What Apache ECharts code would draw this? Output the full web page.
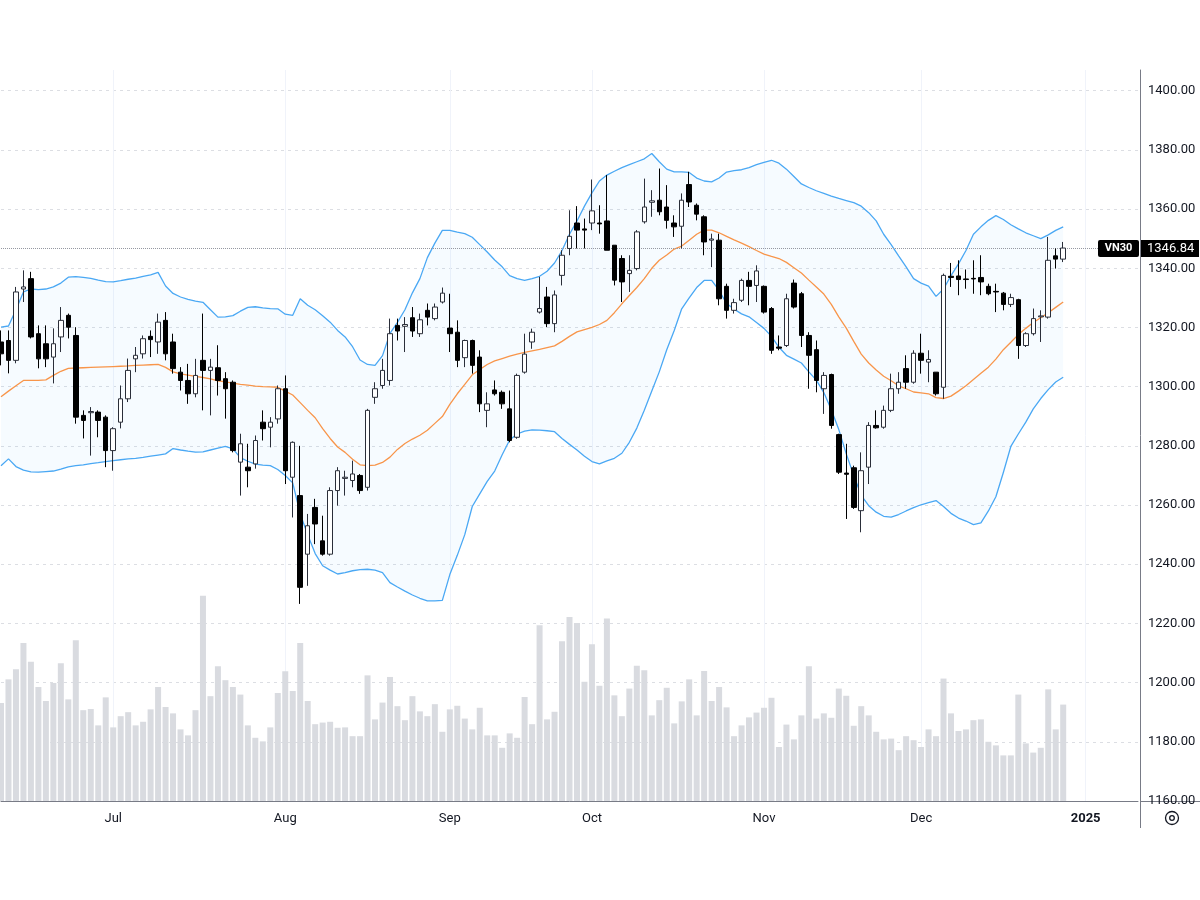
<!DOCTYPE html>
<html>
<head>
<meta charset="utf-8">
<title>VN30</title>
<script src="https://cdn.jsdelivr.net/npm/echarts@6/dist/echarts.min.js"></script>
<style>
  html, body { margin: 0; padding: 0; background: #fff; }
  #chart { width: 1200px; height: 900px; }
</style>
</head>
<body>
<div id="chart"></div>
<script>
// trading calendar (weekdays, minus exchange holidays) - 143 sessions + future slots
const firstDay = '2024-06-10'
const holidays = ['2024-09-02', '2024-09-03', '2025-01-01']
const slotCount = 153
const monthNames = ['Jan', 'Feb', 'Mar', 'Apr', 'May', 'Jun', 'Jul', 'Aug', 'Sep', 'Oct', 'Nov', 'Dec']

const openPrices = [
  1315.1, 1315.6, 1308.9, 1333.0, 1336.5, 1317.9, 1314.5, 1310.0, 1316.8, 1324.1,
  1317.3, 1290.3, 1291.2, 1291.4, 1289.7, 1278.4, 1288.0, 1295.9, 1309.4, 1311.1,
  1317.0, 1315.1, 1322.4, 1315.1, 1304.9, 1302.1, 1297.6, 1308.9, 1305.5, 1306.4,
  1302.7, 1301.5, 1274.5, 1272.8, 1273.9, 1288.0, 1286.3, 1289.1, 1299.3, 1269.4,
  1263.2, 1243.4, 1259.2, 1247.9, 1243.4, 1264.9, 1269.0, 1268.3, 1270.0, 1266.0,
  1296.4, 1300.4, 1302.1, 1320.7, 1320.4, 1323.3, 1317.9, 1325.8, 1323.0, 1328.6,
  1319.8, 1318.4, 1309.8, 1315.6, 1310.0, 1292.0, 1298.9, 1298.1, 1292.5, 1282.9,
  1304.9, 1315.1, 1325.2, 1330.3, 1321.3, 1337.6, 1346.7, 1355.3, 1353.3, 1355.3,
  1355.3, 1356.0, 1347.8, 1343.3, 1338.2, 1339.9, 1355.7, 1362.3, 1363.0, 1360.7,
  1355.3, 1354.2, 1368.3, 1361.3, 1357.4, 1349.5, 1349.5, 1333.9, 1325.8, 1329.2,
  1335.9, 1334.2, 1333.9, 1326.4, 1313.4, 1313.9, 1335.0, 1331.4, 1317.3, 1312.5,
  1299.3, 1304.1, 1283.8, 1270.8, 1272.6, 1258.1, 1272.8, 1286.9, 1286.3, 1292.0,
  1299.3, 1306.1, 1301.5, 1311.3, 1308.3, 1304.9, 1299.8, 1337.3, 1337.4, 1336.4,
  1336.6, 1336.9, 1333.9, 1332.2, 1331.6, 1327.8, 1329.4, 1313.9, 1317.9, 1323.6,
  1323.5, 1344.2, 1343.1
]
const closePrices = [
  1311.1, 1308.9, 1332.0, 1333.7, 1316.8, 1309.4, 1309.4, 1314.5, 1322.4, 1320.1,
  1289.7, 1288.6, 1291.6, 1288.6, 1278.4, 1285.8, 1295.9, 1305.5, 1310.6, 1316.2,
  1315.9, 1321.8, 1311.1, 1306.1, 1302.1, 1297.6, 1303.8, 1305.5, 1306.6, 1302.1,
  1299.3, 1278.4, 1280.7, 1271.6, 1281.8, 1285.8, 1288.0, 1299.3, 1271.6, 1281.2,
  1232.2, 1253.0, 1253.6, 1243.4, 1264.9, 1271.6, 1269.4, 1270.5, 1264.9, 1292.0,
  1299.3, 1305.5, 1317.9, 1318.8, 1321.0, 1318.8, 1322.6, 1323.5, 1326.9, 1331.6,
  1317.9, 1308.9, 1315.6, 1307.2, 1294.2, 1294.2, 1297.6, 1294.2, 1281.8, 1303.8,
  1311.0, 1318.4, 1326.4, 1321.3, 1331.0, 1344.4, 1350.8, 1352.9, 1352.9, 1359.4,
  1355.0, 1346.1, 1336.0, 1335.4, 1339.3, 1352.3, 1360.7, 1362.8, 1359.1, 1356.2,
  1354.0, 1363.0, 1362.4, 1358.3, 1348.9, 1349.9, 1329.7, 1325.8, 1328.4, 1335.9,
  1333.9, 1339.1, 1325.2, 1312.3, 1313.0, 1329.7, 1326.9, 1317.3, 1310.6, 1302.1,
  1303.8, 1286.9, 1271.1, 1270.4, 1259.2, 1271.6, 1286.9, 1286.1, 1292.0, 1299.3,
  1301.5, 1301.5, 1311.3, 1308.9, 1309.2, 1297.6, 1337.6, 1336.9, 1336.2, 1336.2,
  1336.4, 1335.4, 1331.4, 1332.0, 1327.8, 1330.1, 1313.9, 1317.9, 1323.0, 1323.9,
  1342.7, 1343.1, 1346.84
]
const lowPrices = [
  1307.2, 1304.5, 1307.9, 1328.6, 1316.3, 1306.2, 1306.6, 1301.1, 1311.7, 1316.3,
  1287.5, 1282.5, 1276.7, 1282.9, 1272.8, 1271.6, 1285.9, 1294.8, 1304.9, 1309.5,
  1310.0, 1311.1, 1308.9, 1304.4, 1298.7, 1294.2, 1296.4, 1292.0, 1290.3, 1297.0,
  1289.2, 1277.8, 1263.2, 1266.0, 1272.3, 1281.8, 1279.5, 1287.5, 1267.1, 1255.8,
  1226.6, 1232.7, 1246.8, 1242.9, 1242.9, 1259.8, 1263.2, 1266.0, 1263.8, 1264.9,
  1294.2, 1299.3, 1300.4, 1315.6, 1311.7, 1316.8, 1316.8, 1320.7, 1322.4, 1328.1,
  1311.7, 1306.6, 1306.6, 1304.4, 1291.4, 1286.3, 1297.0, 1292.5, 1281.2, 1282.4,
  1304.4, 1312.8, 1324.7, 1320.1, 1318.4, 1334.2, 1344.4, 1346.7, 1346.7, 1352.9,
  1351.7, 1346.1, 1334.2, 1328.6, 1332.0, 1339.3, 1355.1, 1357.4, 1357.9, 1353.4,
  1350.6, 1346.7, 1360.7, 1356.2, 1344.4, 1340.4, 1327.5, 1323.0, 1324.7, 1328.6,
  1327.5, 1328.6, 1324.7, 1311.1, 1312.3, 1313.4, 1326.4, 1313.4, 1299.3, 1298.1,
  1290.8, 1285.8, 1270.5, 1255.3, 1258.7, 1250.8, 1267.1, 1285.8, 1285.8, 1291.4,
  1297.6, 1299.3, 1301.0, 1304.4, 1301.5, 1297.0, 1295.9, 1333.7, 1330.9, 1333.1,
  1331.4, 1330.9, 1330.9, 1325.2, 1325.8, 1326.9, 1309.4, 1313.4, 1317.3, 1315.1,
  1323.0, 1339.9, 1342.1
]
const highPrices = [
  1319.0, 1319.0, 1333.7, 1339.3, 1338.8, 1320.7, 1320.7, 1319.7, 1326.9, 1324.7,
  1320.1, 1292.0, 1293.1, 1292.0, 1290.3, 1286.3, 1300.4, 1309.5, 1313.4, 1317.3,
  1319.0, 1324.7, 1325.2, 1317.9, 1306.6, 1307.7, 1309.4, 1324.7, 1309.4, 1314.0,
  1304.9, 1302.1, 1284.1, 1280.7, 1283.5, 1292.0, 1289.7, 1300.4, 1303.8, 1281.5,
  1280.0, 1257.0, 1262.1, 1256.4, 1266.0, 1272.8, 1271.6, 1275.0, 1270.5, 1292.5,
  1301.5, 1309.4, 1323.0, 1323.0, 1323.5, 1326.9, 1324.7, 1328.1, 1328.1, 1333.5,
  1331.4, 1322.4, 1315.9, 1315.9, 1312.3, 1298.1, 1302.1, 1298.7, 1298.7, 1304.4,
  1317.9, 1319.6, 1337.1, 1333.7, 1332.5, 1346.1, 1359.6, 1361.0, 1356.8, 1370.0,
  1361.3, 1371.5, 1347.8, 1344.4, 1344.4, 1352.9, 1370.3, 1366.4, 1373.7, 1368.1,
  1357.9, 1365.3, 1372.6, 1361.9, 1357.9, 1351.7, 1351.7, 1334.8, 1329.7, 1336.5,
  1338.8, 1341.0, 1334.2, 1326.9, 1317.3, 1331.4, 1336.2, 1332.0, 1318.4, 1315.6,
  1304.9, 1304.4, 1284.1, 1280.7, 1273.3, 1277.8, 1288.0, 1292.0, 1293.6, 1304.4,
  1304.9, 1310.6, 1312.3, 1317.9, 1312.3, 1304.9, 1338.2, 1341.8, 1342.7, 1339.6,
  1342.7, 1344.4, 1334.8, 1334.8, 1332.0, 1331.4, 1329.7, 1318.4, 1326.4, 1325.8,
  1350.6, 1346.7, 1348.9
]
// volume, millions of shares
const volumes = [
  245, 304, 329, 395, 348, 285, 250, 295, 344, 254,
  402, 227, 230, 189, 259, 184, 212, 222, 189, 198,
  229, 285, 235, 219, 179, 164, 227, 513, 262, 337,
  302, 285, 266, 189, 158, 149, 184, 270, 324, 275,
  395, 250, 192, 196, 198, 183, 184, 162, 162, 314,
  204, 246, 310, 237, 202, 262, 224, 212, 242, 173,
  229, 238, 206, 179, 233, 164, 164, 133, 169, 158,
  260, 192, 439, 204, 223, 399, 460, 445, 298, 392,
  288, 456, 264, 212, 281, 338, 327, 214, 252, 283,
  194, 249, 304, 214, 325, 250, 285, 234, 162, 189,
  209, 221, 233, 258, 135, 191, 154, 214, 337, 206,
  219, 208, 281, 263, 188, 237, 214, 173, 154, 156,
  127, 162, 152, 135, 179, 162, 306, 219, 175, 179,
  202, 204, 148, 139, 114, 114, 266, 144, 121, 133,
  279, 179, 241
]
// Bollinger bands (20, 2) as plotted
const bbUpper = [
  1320.1, 1320.5, 1326.0, 1332.0, 1333.0, 1332.8, 1333.0, 1333.7, 1335.0, 1337.0,
  1337.2, 1336.9, 1336.6, 1336.0, 1335.5, 1335.4, 1335.8, 1336.3, 1336.7, 1337.3,
  1337.8, 1338.6, 1334.0, 1331.5, 1330.3, 1329.5, 1328.9, 1328.5, 1326.0, 1323.5,
  1323.6, 1324.0, 1325.5, 1326.8, 1327.0, 1326.6, 1326.4, 1326.3, 1324.5, 1324.1,
  1329.7, 1327.5, 1326.0, 1324.0, 1321.8, 1319.0, 1316.8, 1313.5, 1309.0, 1307.5,
  1307.2, 1310.5, 1318.0, 1321.7, 1326.0, 1331.7, 1336.5, 1343.6, 1348.5, 1352.8,
  1352.8, 1352.2, 1351.7, 1350.5, 1348.0, 1345.5, 1342.8, 1340.5, 1337.5, 1336.5,
  1335.9, 1336.5, 1337.3, 1339.0, 1341.8, 1346.0, 1351.5, 1356.0, 1361.0, 1365.5,
  1369.5, 1371.5, 1372.8, 1374.0, 1375.0, 1376.0, 1377.0, 1378.8, 1376.0, 1373.5,
  1372.6, 1372.6, 1372.4, 1370.5, 1369.5, 1369.2, 1370.5, 1372.5, 1373.0, 1373.3,
  1374.0, 1375.0, 1375.8, 1376.5, 1375.5, 1373.5, 1371.0, 1368.5, 1367.3, 1366.2,
  1365.3, 1364.4, 1363.6, 1362.9, 1362.2, 1361.0, 1358.8, 1356.0, 1351.5, 1348.0,
  1344.2, 1340.5, 1336.5, 1335.0, 1334.0, 1330.5, 1333.0, 1337.5, 1341.5, 1346.0,
  1351.5, 1354.0, 1356.2, 1357.8, 1356.5, 1354.7, 1353.3, 1352.0, 1351.0, 1350.0,
  1351.3, 1352.8, 1354.0
]
const bbBasis = [
  1296.6, 1298.5, 1300.3, 1302.1, 1302.1, 1302.1, 1302.3, 1303.8, 1305.2, 1306.2,
  1306.3, 1306.4, 1306.5, 1306.6, 1306.7, 1306.8, 1306.9, 1307.0, 1307.2, 1307.3,
  1307.4, 1307.5, 1306.5, 1305.0, 1304.3, 1303.9, 1303.5, 1303.1, 1302.6, 1302.0,
  1301.6, 1301.2, 1300.8, 1300.5, 1300.2, 1300.0, 1299.9, 1299.8, 1298.5, 1297.2,
  1294.6, 1292.0, 1289.5, 1285.8, 1282.5, 1279.6, 1277.8, 1275.5, 1273.6, 1273.3,
  1273.5, 1274.4, 1276.2, 1278.8, 1280.8, 1282.3, 1283.6, 1285.3, 1287.6, 1289.9,
  1294.0, 1297.6, 1300.8, 1304.0, 1305.8, 1307.5, 1308.7, 1309.5, 1310.3, 1311.0,
  1311.6, 1312.1, 1312.6, 1313.2, 1313.8, 1315.3, 1317.0, 1318.5, 1319.3, 1320.0,
  1321.0, 1322.4, 1325.0, 1328.0, 1330.8, 1333.5, 1336.5, 1340.0, 1342.7, 1344.5,
  1346.5, 1347.5, 1349.5, 1351.5, 1352.9, 1352.9, 1352.0, 1350.8, 1349.6, 1348.5,
  1347.3, 1346.0, 1344.8, 1344.0, 1343.3, 1342.0, 1340.2, 1338.4, 1336.0, 1333.7,
  1331.3, 1327.8, 1323.6, 1319.8, 1315.3, 1311.0, 1308.0, 1305.6, 1303.5, 1302.0,
  1300.3, 1299.3, 1298.2, 1297.9, 1297.6, 1296.3, 1296.0, 1296.8, 1298.5, 1300.3,
  1302.4, 1304.5, 1306.6, 1309.3, 1312.5, 1315.0, 1317.6, 1319.7, 1321.7, 1323.3,
  1325.0, 1326.8, 1328.6
]
const bbLower = [
  1273.3, 1275.6, 1273.0, 1271.8, 1271.2, 1271.1, 1271.3, 1271.5, 1272.1, 1272.9,
  1273.3, 1273.6, 1274.0, 1274.3, 1274.7, 1275.0, 1275.3, 1275.6, 1275.8, 1276.1,
  1276.5, 1276.9, 1277.3, 1279.1, 1278.6, 1278.2, 1277.9, 1278.0, 1278.6, 1279.2,
  1279.8, 1279.0, 1276.0, 1274.8, 1273.8, 1273.5, 1273.3, 1272.0, 1270.0, 1267.5,
  1257.0, 1250.0, 1243.6, 1239.5, 1238.0, 1236.7, 1237.2, 1237.8, 1238.2, 1238.3,
  1238.0, 1237.2, 1233.8, 1232.3, 1230.9, 1229.6, 1228.5, 1227.6, 1227.6, 1227.8,
  1236.5, 1243.0, 1250.0, 1259.5, 1263.8, 1268.0, 1271.5, 1277.0, 1282.0, 1284.0,
  1285.0, 1285.4, 1285.3, 1285.1, 1284.8, 1282.5, 1280.5, 1278.6, 1276.5, 1274.7,
  1273.9, 1274.9, 1275.8, 1277.5, 1281.2, 1286.0, 1292.0, 1298.5, 1305.0, 1312.5,
  1319.0, 1326.3, 1330.0, 1333.5, 1335.9, 1335.9, 1332.5, 1328.1, 1326.2, 1324.6,
  1323.6, 1321.7, 1319.7, 1317.0, 1313.3, 1310.6, 1309.3, 1308.0, 1305.0, 1302.2,
  1298.0, 1292.2, 1285.5, 1277.3, 1270.0, 1263.3, 1259.8, 1257.6, 1256.2, 1255.9,
  1256.8, 1258.0, 1259.1, 1260.1, 1260.8, 1261.5, 1259.5, 1257.2, 1255.6, 1254.6,
  1253.4, 1254.0, 1258.0, 1262.8, 1271.0, 1279.8, 1284.0, 1288.0, 1292.5, 1296.0,
  1299.0, 1301.6, 1303.2
]
const priceTicks = { min: 1160, max: 1407, step: 20 }
const symbolName = 'VN30'

function tradingDays(start, count) {
  const out = []
  const d = new Date(start + 'T00:00:00Z')
  while (out.length < count) {
    const s = d.toISOString().slice(0, 10)
    const wd = d.getUTCDay()
    if (wd !== 0 && wd !== 6 && holidays.indexOf(s) < 0) out.push(s)
    d.setUTCDate(d.getUTCDate() + 1)
  }
  return out
}

const dates = tradingDays(firstDay, slotCount)
const monthStart = {}
dates.forEach((s, i) => {
  if (i > 0 && s.slice(5, 7) !== dates[i - 1].slice(5, 7)) {
    const m = +s.slice(5, 7)
    monthStart[i] = m === 1 ? s.slice(0, 4) : monthNames[m - 1]
  }
})

const candles = openPrices.map((o, i) => [o, closePrices[i], lowPrices[i], highPrices[i]])
const bandWidth = bbUpper.map((u, i) => +(u - bbLower[i]).toFixed(2))
const lastClose = closePrices[closePrices.length - 1]

const chart = echarts.init(document.getElementById('chart'))
chart.setOption({
  animation: false,
  backgroundColor: '#ffffff',
  textStyle: { fontFamily: 'Roboto, "Liberation Sans", sans-serif' },
  grid: { left: 1, right: 62, top: 70, bottom: 99, containLabel: false },
  xAxis: [
    {
      type: 'category',
      data: dates,
      boundaryGap: false,
      axisLine: { lineStyle: { color: '#787b86', width: 1 } },
      axisTick: { show: false },
      axisLabel: {
        interval: (idx) => monthStart[idx] !== undefined,
        formatter: (val, idx) => {
          const t = monthStart[idx] || ''
          return /^\d{4}$/.test(t) ? '{yr|' + t + '}' : t
        },
        color: '#131722',
        fontSize: 13,
        margin: 11,
        rich: { yr: { fontWeight: 'bold', fontSize: 13, color: '#131722' } }
      },
      splitLine: {
        show: true,
        interval: (idx) => monthStart[idx] !== undefined,
        lineStyle: { color: '#f0f3fa', width: 1 }
      }
    }
  ],
  yAxis: [
    {
      type: 'value',
      position: 'right',
      offset: 2,
      min: priceTicks.min,
      max: priceTicks.max,
      interval: priceTicks.step,
      axisLine: { show: true, lineStyle: { color: '#787b86', width: 1 } },
      axisTick: { show: false },
      axisLabel: {
        color: '#131722',
        fontSize: 13,
        margin: 8,
        showMaxLabel: false,
        formatter: (v) => v.toFixed(2)
      },
      splitLine: {
        show: true,
        showMaxLine: false,
        lineStyle: { color: '#dcdee3', type: [3, 4], width: 1 }
      }
    },
    {
      // volume scale, hidden
      type: 'value',
      min: 0,
      max: 1827,
      show: false,
      splitLine: { show: false }
    }
  ],
  series: [
    {
      name: 'Volume',
      type: 'bar',
      yAxisIndex: 1,
      data: volumes,
      barWidth: 6,
      itemStyle: { color: '#d9dbe0' },
      silent: true,
      z: 1
    },
    {
      name: 'bbBase',
      type: 'line',
      stack: 'bb',
      data: bbLower,
      symbol: 'none',
      lineStyle: { opacity: 0 },
      silent: true,
      z: 2
    },
    {
      name: 'bbFill',
      type: 'line',
      stack: 'bb',
      data: bandWidth,
      symbol: 'none',
      lineStyle: { opacity: 0 },
      areaStyle: { color: 'rgba(33, 150, 243, 0.055)' },
      silent: true,
      z: 2
    },
    {
      name: 'Upper',
      type: 'line',
      data: bbUpper,
      symbol: 'none',
      lineStyle: { color: '#4aa8f4', width: 1.3 },
      silent: true,
      z: 3
    },
    {
      name: 'Lower',
      type: 'line',
      data: bbLower,
      symbol: 'none',
      lineStyle: { color: '#4aa8f4', width: 1.3 },
      silent: true,
      z: 3
    },
    {
      name: 'Basis',
      type: 'line',
      data: bbBasis,
      symbol: 'none',
      lineStyle: { color: '#f8954a', width: 1.3 },
      silent: true,
      z: 3
    },
    {
      name: symbolName,
      type: 'candlestick',
      data: candles,
      barWidth: 5,
      itemStyle: {
        color: '#ffffff',
        color0: '#000000',
        borderColor: '#2a2e39',
        borderColor0: '#000000',
        borderColorDoji: '#2a2e39',
        borderWidth: 1
      },
      markLine: {
        silent: true,
        symbol: ['none', 'none'],
        label: { show: false },
        lineStyle: { color: '#9598a1', type: 'dotted', width: 1 },
        data: [{ yAxis: lastClose }]
      },
      z: 5
    }
  ]
})

// last price tags on the price scale
const py = Math.round(chart.convertToPixel({ yAxisIndex: 0 }, lastClose))
chart.setOption({
  graphic: [
    { type: 'line', shape: { x1: 1140.5, y1: 801, x2: 1140.5, y2: 828 }, style: { stroke: '#787b86', lineWidth: 1 } },
    { type: 'line', shape: { x1: 1140, y1: 801.5, x2: 1200, y2: 801.5 }, style: { stroke: '#787b86', lineWidth: 1 } },
    { type: 'rect', shape: { x: 1098, y: py - 8, width: 41, height: 17, r: 2 }, style: { fill: '#000000' }, z: 100 },
    { type: 'text', x: 1118.5, y: py + 0.5, style: { text: symbolName, fill: '#ffffff', font: 'bold 11px Roboto, sans-serif', align: 'center', verticalAlign: 'middle' }, z: 101 },
    { type: 'rect', shape: { x: 1141, y: py - 8, width: 58, height: 17 }, style: { fill: '#000000' }, z: 100 },
    { type: 'text', x: 1147, y: py + 0.5, style: { text: lastClose.toFixed(2), fill: '#ffffff', font: '13px Roboto, sans-serif', align: 'left', verticalAlign: 'middle' }, z: 101 },
    { type: 'circle', shape: { cx: 1172, cy: 818, r: 6.5 }, style: { fill: 'none', stroke: '#131722', lineWidth: 1.3 }, z: 100 },
    { type: 'circle', shape: { cx: 1172, cy: 818, r: 2.3 }, style: { fill: 'none', stroke: '#131722', lineWidth: 1.3 }, z: 100 }
  ]
})
</script>
</body>
</html>
